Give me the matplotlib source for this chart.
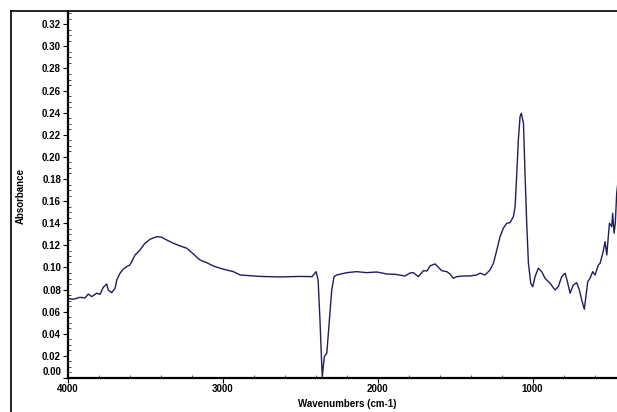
"""FTIR absorbance spectrum, redrawn from the reference picture."""
import matplotlib
matplotlib.use("Agg")
import matplotlib.pyplot as plt
import matplotlib.transforms as mtransforms
from matplotlib.lines import Line2D
from matplotlib.ticker import MultipleLocator

plt.rcParams["font.family"] = ["Liberation Sans", "DejaVu Sans"]
plt.rcParams["font.weight"] = "bold"

# spectrum (wavenumber in cm-1, absorbance)
wavenumber = [
    4000, 3966, 3923, 3890, 3869, 3847, 3815, 3793, 3772, 3750,
    3740, 3718, 3696, 3685, 3664, 3643, 3621, 3600, 3567, 3535,
    3503, 3470, 3427, 3395, 3363, 3320, 3277, 3233, 3191, 3148,
    3104, 3062, 3018, 2975, 2932, 2889, 2760, 2631, 2502, 2424,
    2398, 2385, 2373, 2364, 2358, 2345, 2329, 2312, 2297, 2282,
    2265, 2200, 2136, 2071, 2006, 1942, 1888, 1824, 1791, 1770,
    1738, 1705, 1682, 1662, 1630, 1609, 1587, 1554, 1533, 1512,
    1490, 1447, 1404, 1361, 1339, 1307, 1275, 1253, 1231, 1210,
    1189, 1167, 1146, 1124, 1113, 1102, 1092, 1081, 1073, 1059,
    1049, 1038, 1027, 1012, 999, 984, 963, 941, 920, 887,
    855, 834, 812, 790, 775, 758, 737, 715, 698, 683,
    666, 644, 629, 612, 597, 575, 564, 547, 532, 521,
    504, 489, 483, 474, 466, 457, 451,
]
absorbance = [
    0.0720, 0.0712, 0.0730, 0.0724, 0.0760, 0.0736, 0.0767, 0.0757, 0.0821, 0.0851,
    0.0796, 0.0772, 0.0812, 0.0887, 0.0948, 0.0984, 0.1007, 0.1023, 0.1113, 0.1158,
    0.1219, 0.1255, 0.1279, 0.1273, 0.1249, 0.1219, 0.1195, 0.1174, 0.1122, 0.1068,
    0.1043, 0.1014, 0.0993, 0.0977, 0.0962, 0.0932, 0.0919, 0.0914, 0.0919, 0.0917,
    0.0962, 0.0887, 0.0525, 0.0199, 0.0012, 0.0193, 0.0224, 0.0525, 0.0796, 0.0917,
    0.0932, 0.0953, 0.0962, 0.0953, 0.0959, 0.0941, 0.0938, 0.0923, 0.0950, 0.0953,
    0.0917, 0.0971, 0.0968, 0.1014, 0.1032, 0.1002, 0.0971, 0.0962, 0.0941, 0.0902,
    0.0917, 0.0923, 0.0923, 0.0932, 0.0948, 0.0932, 0.0977, 0.1038, 0.1158, 0.1279,
    0.1355, 0.1400, 0.1405, 0.1460, 0.1550, 0.1852, 0.2154, 0.2365, 0.2395, 0.2305,
    0.1852, 0.1400, 0.1038, 0.0857, 0.0826, 0.0917, 0.0993, 0.0962, 0.0902, 0.0857,
    0.0796, 0.0826, 0.0917, 0.0948, 0.0871, 0.0767, 0.0842, 0.0862, 0.0796, 0.0706,
    0.0622, 0.0871, 0.0902, 0.0962, 0.0932, 0.1023, 0.1038, 0.1128, 0.1233, 0.1113,
    0.1400, 0.1369, 0.1490, 0.1310, 0.1400, 0.1671, 0.1747,
]

W, H = 617, 412
fig = plt.figure(figsize=(W / 100, H / 100), dpi=100)
ax = fig.add_axes([68 / W, 1 - 378 / H, 1 - 68 / W, (378 - 11) / H])

ax.plot(wavenumber, absorbance, color="#1e1e5e", lw=1.0)
ax.set_xlim(4000, 455)
ax.set_ylim(0.0, 0.332)

ax.xaxis.set_major_locator(MultipleLocator(1000))
ax.xaxis.set_minor_locator(MultipleLocator(200))
ax.yaxis.set_major_locator(MultipleLocator(0.02))
ax.yaxis.set_minor_locator(MultipleLocator(0.005))
ax.yaxis.set_major_formatter(plt.FuncFormatter(lambda v, _: f"{v:.2f}"))

for side in ("top", "right"):
    ax.spines[side].set_visible(False)
for side in ("left", "bottom"):
    ax.spines[side].set_linewidth(1.6)

ax.tick_params(axis="both", which="major", direction="out", length=3.5,
               width=0.8, labelsize=7, pad=1.5)
ax.tick_params(axis="x", which="major", pad=1.0)
ax.tick_params(axis="both", which="minor", direction="in", length=2, width=0.5)

# the bottom label sits a bit above its tick so it clears the x axis
fig.canvas.draw()
for lab in ax.get_yticklabels():
    if lab.get_text() == "0.00":
        lab.set_transform(lab.get_transform()
                          + mtransforms.ScaledTranslation(0, 7 / 100, fig.dpi_scale_trans))

fig.text(347 / W, 1 - 404 / H, "Wavenumbers (cm-1)", ha="center", va="center",
         fontsize=7, fontweight="bold")
fig.text(21 / W, 1 - 196 / H, "Absorbance", ha="center", va="center",
         rotation=90, fontsize=7, fontweight="bold")

# outer frame of the original printout
fig.add_artist(Line2D([11 / W, 11 / W], [0, 1 - 11 / H], color="black", lw=1.2))
fig.add_artist(Line2D([11 / W, 1], [1 - 11 / H, 1 - 11 / H], color="black", lw=1.2))

fig.savefig("out.png", dpi=100)
